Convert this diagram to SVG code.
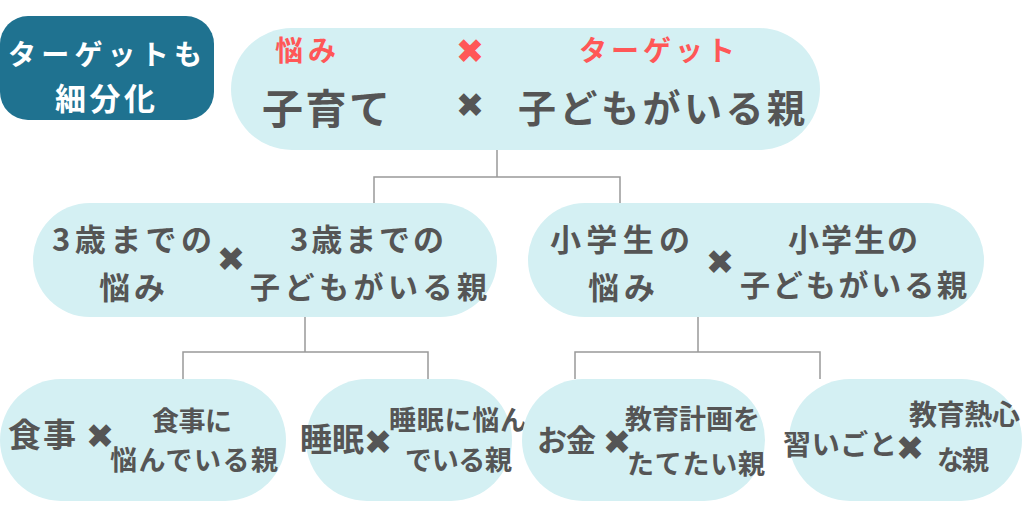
<svg xmlns="http://www.w3.org/2000/svg" width="1024" height="512" viewBox="0 0 1024 512">
<style>
.pill{fill:#d4f0f3;}
.t{font-family:"Noto Sans CJK JP","Noto Sans",sans-serif;font-weight:bold;fill:#555555;}
.x{font-family:"DejaVu Sans",sans-serif;font-weight:bold;fill:#555555;text-anchor:middle;dominant-baseline:central;font-size:34px;}
.r{fill:#ff5757;}
.w{fill:#ffffff;}
.conn{fill:none;stroke:#999999;stroke-width:1.5;}
</style>
<rect width="1024" height="512" fill="#ffffff"/>
<g id="connectors">
<path class="conn" d="M497 150V177M374 205V177H620V205"/>
<path class="conn" d="M305 317V352M183 379V352H428V379"/>
<path class="conn" d="M698 317V352M575 379V352H820V379"/>
</g>
<g id="title">
<rect x="0" y="16" width="214" height="104" rx="28" fill="#1f7290"/>
<text class="t w" x="8" y="65" font-size="28" textLength="194" lengthAdjust="spacing">ターゲットも</text>
<text class="t w" x="55" y="110" font-size="31" textLength="100" lengthAdjust="spacing">細分化</text>
</g>
<g id="top">
<rect class="pill" x="231" y="28" width="589" height="122" rx="61"/>
<text class="t r" x="275" y="61" font-size="28" textLength="61" lengthAdjust="spacing">悩み</text>
<text class="x r" x="470" y="51">✖</text>
<text class="t r" x="579" y="61" font-size="28" textLength="156" lengthAdjust="spacing">ターゲット</text>
<text class="t" x="262" y="124" font-size="41" textLength="128" lengthAdjust="spacing">子育て</text>
<text class="x" x="470" y="105">✖</text>
<text class="t" x="518" y="122" font-size="38" textLength="287" lengthAdjust="spacing">子どもがいる親</text>
</g>
<g id="n-3sai">
<rect class="pill" x="33" y="203" width="464" height="114" rx="57"/>
<text class="t" x="52" y="251" font-size="31" textLength="160" lengthAdjust="spacing">3歳までの</text>
<text class="t" x="99" y="299" font-size="31" textLength="66" lengthAdjust="spacing">悩み</text>
<text class="x" x="231" y="259">✖</text>
<text class="t" x="290" y="251" font-size="31" textLength="154" lengthAdjust="spacing">3歳までの</text>
<text class="t" x="250" y="298" font-size="30" textLength="237" lengthAdjust="spacing">子どもがいる親</text>
</g>
<g id="n-shogaku">
<rect class="pill" x="528" y="203" width="456" height="114" rx="57"/>
<text class="t" x="550" y="251" font-size="31" textLength="140" lengthAdjust="spacing">小学生の</text>
<text class="t" x="588" y="299" font-size="31" textLength="67" lengthAdjust="spacing">悩み</text>
<text class="x" x="720" y="262">✖</text>
<text class="t" x="788" y="251" font-size="31" textLength="130" lengthAdjust="spacing">小学生の</text>
<text class="t" x="740" y="296" font-size="30" textLength="227" lengthAdjust="spacing">子どもがいる親</text>
</g>
<g id="n-shokuji">
<rect class="pill" x="0" y="379" width="286" height="122" rx="61"/>
<text class="t" x="8" y="447" font-size="33" textLength="68" lengthAdjust="spacing">食事</text>
<text class="x" x="100" y="436">✖</text>
<text class="t" x="152" y="431" font-size="27" textLength="80" lengthAdjust="spacing">食事に</text>
<text class="t" x="110" y="470" font-size="27" textLength="168" lengthAdjust="spacing">悩んでいる親</text>
</g>
<g id="n-suimin">
<rect class="pill" x="306" y="379" width="206" height="122" rx="61"/>
<text class="t" x="300" y="451" font-size="32" textLength="64" lengthAdjust="spacing">睡眠</text>
<text class="x" x="378" y="442">✖</text>
<text class="t" x="389" y="430" font-size="27" textLength="138" lengthAdjust="spacing">睡眠に悩ん</text>
<text class="t" x="405" y="470" font-size="27" textLength="107" lengthAdjust="spacing">でいる親</text>
</g>
<g id="n-okane">
<rect class="pill" x="522" y="379" width="243" height="122" rx="61"/>
<text class="t" x="537" y="451" font-size="30" textLength="59" lengthAdjust="spacing">お金</text>
<text class="x" x="617" y="442">✖</text>
<text class="t" x="625" y="429" font-size="27" textLength="135" lengthAdjust="spacing">教育計画を</text>
<text class="t" x="627" y="474" font-size="27" textLength="138" lengthAdjust="spacing">たてたい親</text>
</g>
<g id="n-naraigoto">
<rect class="pill" x="789" y="379" width="233" height="122" rx="61"/>
<text class="t" x="783" y="455" font-size="28" textLength="114" lengthAdjust="spacing">習いごと</text>
<text class="x" x="910" y="448">✖</text>
<text class="t" x="909" y="425" font-size="28" textLength="111" lengthAdjust="spacing">教育熱心</text>
<text class="t" x="937" y="470" font-size="27" textLength="52" lengthAdjust="spacing">な親</text>
</g>
</svg>
